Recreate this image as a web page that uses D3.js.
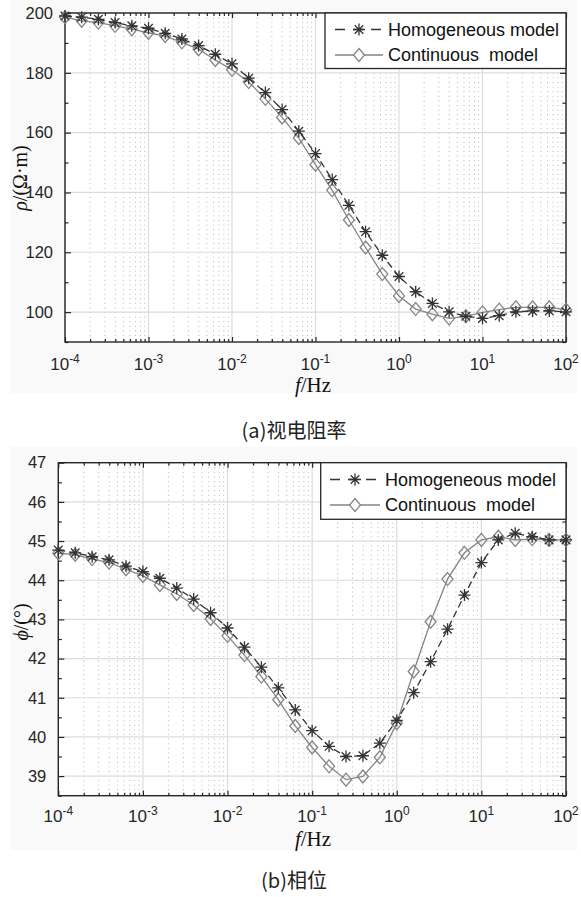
<!DOCTYPE html>
<html><head><meta charset="utf-8">
<script src="https://cdn.jsdelivr.net/npm/d3@7"></script>
<style>body{margin:0;background:#fff;} svg{display:block}</style>
</head><body>
<svg id="c" width="581" height="897"></svg>
<script>
// ---------------- data ----------------
const freqs = [1e-4, 1.585e-4, 2.512e-4, 3.981e-4, 6.310e-4,
               1e-3, 1.585e-3, 2.512e-3, 3.981e-3, 6.310e-3,
               1e-2, 1.585e-2, 2.512e-2, 3.981e-2, 6.310e-2,
               1e-1, 1.585e-1, 2.512e-1, 3.981e-1, 6.310e-1,
               1, 1.585, 2.512, 3.981, 6.310,
               10, 15.85, 25.12, 39.81, 63.10, 100];
const rhoHomogeneous = [199.0, 198.6, 197.9, 196.8, 195.7, 194.9, 193.2, 191.3, 189.1, 186.2,
                        183.0, 178.2, 173.4, 167.7, 160.5, 153.0, 144.3, 135.7, 126.9, 119.0,
                        111.9, 106.8, 102.9, 100.1, 98.6, 97.9, 98.8, 100.1, 100.4, 100.4, 100.1];
const rhoContinuous  = [198.6, 197.4, 196.8, 195.7, 194.6, 193.4, 192.3, 190.2, 187.9, 184.3,
                        181.0, 176.9, 171.3, 165.1, 158.2, 149.3, 140.7, 130.8, 121.6, 112.7,
                        105.4, 101.0, 99.3, 97.9, 98.6, 99.9, 100.8, 101.6, 101.6, 101.6, 100.8];
const phiHomogeneous = [44.77, 44.70, 44.60, 44.52, 44.36, 44.22, 44.05, 43.80, 43.52, 43.17,
                        42.78, 42.29, 41.78, 41.25, 40.69, 40.16, 39.76, 39.50, 39.52, 39.84,
                        40.42, 41.13, 41.92, 42.75, 43.62, 44.45, 45.03, 45.20, 45.11, 45.03, 45.03];
const phiContinuous  = [44.69, 44.65, 44.54, 44.45, 44.28, 44.11, 43.88, 43.65, 43.37, 43.01,
                        42.58, 42.09, 41.54, 40.95, 40.28, 39.73, 39.25, 38.91, 38.99, 39.48,
                        40.35, 41.67, 42.94, 44.03, 44.70, 45.03, 45.11, 45.03, 45.05, 45.03, 45.03];
const xTickExponents = ["-4", "-3", "-2", "-1", "0", "1", "2"];
const rhoTicks = [100, 120, 140, 160, 180, 200];
const rhoMinorTicks = [90, 110, 130, 150, 170, 190];
const phiTicks = [39, 40, 41, 42, 43, 44, 45, 46, 47];
const phiMinorTicks = [38.5, 39.5, 40.5, 41.5, 42.5, 43.5, 44.5, 45.5, 46.5];
const seriesNames = ["Homogeneous model", "Continuous  model"];
const captions = ["(a)视电阻率", "(b)相位"];

// ---------------- drawing ----------------
const svg = d3.select("#c");
const AX = "#262626";
const HOM = "#333333", CON = "#858585";
const SANS = "'Liberation Sans', Arial, Helvetica, sans-serif";
const SERIF = "'Liberation Serif', 'Times New Roman', serif";

const panels = [
  {left:65, right:566, top:13, bottom:342, ydom:[90,200], ticks:rhoTicks, minor:rhoMinorTicks,
   hom:rhoHomogeneous, con:rhoContinuous, bg:[10,0,567,393],
   leg:{x:325,y:13,w:241,h:55.5,r1:29.5,r2:55,sx0:335,sx1:383,tx:388},
   tickBase:370, xlab:{x:313,y:392}, ylab:{x:20,y:178}, ylabKind:"rho",
   cap:{x:294,y:438,t:captions[0]}},
  {left:58.3, right:566, top:462.7, bottom:795.7, ydom:[38.5,47], ticks:phiTicks, minor:phiMinorTicks,
   hom:phiHomogeneous, con:phiContinuous, bg:[10,447,567,403],
   leg:{x:320.7,y:462.7,w:245.3,h:56.6,r1:479.5,r2:505,sx0:330,sx1:380,tx:385},
   tickBase:822, xlab:{x:313,y:846}, ylab:{x:21,y:622}, ylabKind:"phi",
   cap:{x:294,y:888,t:captions[1]}}
];

const starPath = "M-6,0H6M0,-6V6M-4.3,-4.3L4.3,4.3M-4.3,4.3L4.3,-4.3";
const diamondPath = "M0,-6.5L5.5,0L0,6.5L-5.5,0Z";

panels.forEach(p => {
  svg.append("rect").attr("x",p.bg[0]).attr("y",p.bg[1]).attr("width",p.bg[2]).attr("height",p.bg[3])
     .attr("fill","#f9f9f9");
  const x = d3.scaleLog().domain([1e-4, 100]).range([p.left, p.right]);
  const y = d3.scaleLinear().domain(p.ydom).range([p.bottom, p.top]);
  const W = p.right - p.left, H = p.bottom - p.top;
  svg.append("rect").attr("x",p.left).attr("y",p.top).attr("width",W).attr("height",H).attr("fill","#fff");

  const isDecade = d => Math.abs(Math.log10(d) - Math.round(Math.log10(d))) < 1e-9;
  const majorX = x.ticks().filter(isDecade);
  const minorX = x.ticks().filter(d => !isDecade(d));

  const g = svg.append("g");
  g.selectAll(".mg").data(minorX).join("line")
    .attr("x1",d=>x(d)).attr("x2",d=>x(d)).attr("y1",p.top).attr("y2",p.bottom)
    .attr("stroke","#b5b5b5").attr("stroke-width",1).attr("stroke-dasharray","1,3.6");
  g.selectAll(".gx").data(majorX).join("line")
    .attr("x1",d=>x(d)).attr("x2",d=>x(d)).attr("y1",p.top).attr("y2",p.bottom)
    .attr("stroke","#dcdcdc").attr("stroke-width",1.2);
  g.selectAll(".gy").data(p.ticks).join("line")
    .attr("x1",p.left).attr("x2",p.right).attr("y1",d=>y(d)).attr("y2",d=>y(d))
    .attr("stroke","#dcdcdc").attr("stroke-width",1.2);

  const axStyle = sel => { sel.select(".domain").remove(); sel.selectAll("line").attr("stroke",AX).attr("stroke-width",1.2); };
  const mk = (gen, tr) => { const a = svg.append("g").attr("transform",tr).call(gen); axStyle(a); return a; };
  mk(d3.axisBottom(x).tickValues(majorX).tickSizeInner(-5).tickSizeOuter(0).tickFormat(""), `translate(0,${p.bottom})`);
  mk(d3.axisBottom(x).tickValues(minorX).tickSizeInner(-3).tickSizeOuter(0).tickFormat(""), `translate(0,${p.bottom})`);
  mk(d3.axisTop(x).tickValues(majorX).tickSizeInner(-5).tickSizeOuter(0).tickFormat(""), `translate(0,${p.top})`);
  mk(d3.axisTop(x).tickValues(minorX).tickSizeInner(-3).tickSizeOuter(0).tickFormat(""), `translate(0,${p.top})`);
  const leftAx = mk(d3.axisLeft(y).tickValues(p.ticks).tickSizeInner(-6).tickSizeOuter(0).tickPadding(12), `translate(${p.left},0)`);
  leftAx.selectAll("text").attr("font-family",SANS).attr("font-size",16.5).attr("fill",AX);
  mk(d3.axisLeft(y).tickValues(p.minor).tickSizeInner(-3.5).tickSizeOuter(0).tickFormat(""), `translate(${p.left},0)`);
  mk(d3.axisRight(y).tickValues(p.ticks).tickSizeInner(-6).tickSizeOuter(0).tickFormat(""), `translate(${p.right},0)`);
  mk(d3.axisRight(y).tickValues(p.minor).tickSizeInner(-3.5).tickSizeOuter(0).tickFormat(""), `translate(${p.right},0)`);

  majorX.forEach((d,i) => {
    const t = svg.append("text").attr("x",x(d)).attr("y",p.tickBase)
      .attr("text-anchor","middle").attr("font-family",SANS)
      .attr("font-size",17).attr("fill",AX);
    t.append("tspan").text("10");
    t.append("tspan").attr("dy",-7.5).attr("font-size",12).text(xTickExponents[i]);
  });

  svg.append("rect").attr("x",p.left).attr("y",p.top).attr("width",W).attr("height",H)
    .attr("fill","none").attr("stroke",AX).attr("stroke-width",1.4);

  const line = d3.line().x((d,i)=>x(freqs[i])).y(d=>y(d));
  svg.append("path").attr("d",line(p.con)).attr("fill","none").attr("stroke",CON).attr("stroke-width",1.3);
  svg.append("g").selectAll("path").data(p.con).join("path")
    .attr("transform",(d,i)=>`translate(${x(freqs[i])},${y(d)})`).attr("d",diamondPath)
    .attr("fill","none").attr("stroke",CON).attr("stroke-width",1.3);
  svg.append("path").attr("d",line(p.hom)).attr("fill","none").attr("stroke",HOM).attr("stroke-width",1.3)
    .attr("stroke-dasharray","7,4");
  svg.append("g").selectAll("path").data(p.hom).join("path")
    .attr("transform",(d,i)=>`translate(${x(freqs[i])},${y(d)})`).attr("d",starPath)
    .attr("fill","none").attr("stroke",HOM).attr("stroke-width",1.3);

  const L = p.leg;
  svg.append("rect").attr("x",L.x).attr("y",L.y).attr("width",L.w).attr("height",L.h)
    .attr("fill","#fff").attr("stroke",AX).attr("stroke-width",1.3);
  const mid = (L.sx0+L.sx1)/2;
  svg.append("line").attr("x1",L.sx0).attr("x2",L.sx1).attr("y1",L.r1).attr("y2",L.r1)
    .attr("stroke",HOM).attr("stroke-width",1.3).attr("stroke-dasharray","10,8");
  svg.append("path").attr("transform",`translate(${mid},${L.r1})`).attr("d",starPath)
    .attr("fill","#fff").attr("stroke",HOM).attr("stroke-width",1.3);
  svg.append("line").attr("x1",L.sx0).attr("x2",L.sx1).attr("y1",L.r2).attr("y2",L.r2)
    .attr("stroke",CON).attr("stroke-width",1.3);
  svg.append("path").attr("transform",`translate(${mid},${L.r2})`).attr("d",diamondPath)
    .attr("fill","#fff").attr("stroke",CON).attr("stroke-width",1.3);
  [L.r1, L.r2].forEach((ry,i) => {
    svg.append("text").attr("x",L.tx).attr("y",ry).attr("dy","0.36em")
      .attr("font-family",SANS).attr("font-size",18)
      .attr("fill","#111").style("white-space","pre").text(seriesNames[i]);
  });

  const xl = svg.append("text").attr("x",p.xlab.x).attr("y",p.xlab.y).attr("text-anchor","middle")
    .attr("font-family",SERIF).attr("font-size",21).attr("fill","#111");
  xl.append("tspan").attr("font-style","italic").text("f");
  xl.append("tspan").text("/Hz");
  const yl = svg.append("text").attr("transform",`translate(${p.ylab.x},${p.ylab.y}) rotate(-90)`)
    .attr("text-anchor","middle").attr("dy","0.35em")
    .attr("font-family",SERIF).attr("font-size",20).attr("fill","#111");
  if (p.ylabKind === "rho") {
    yl.append("tspan").attr("font-style","italic").text("ρ");
    yl.append("tspan").text("/(Ω·m)");
  } else {
    yl.append("tspan").attr("font-style","italic").text("ϕ");
    yl.append("tspan").text("/(°)");
  }

  svg.append("text").attr("x",p.cap.x).attr("y",p.cap.y).attr("text-anchor","middle")
    .attr("font-family","'Noto Sans CJK SC', sans-serif").attr("font-size",20).attr("fill","#222")
    .text(p.cap.t);
});
</script>
</body></html>
